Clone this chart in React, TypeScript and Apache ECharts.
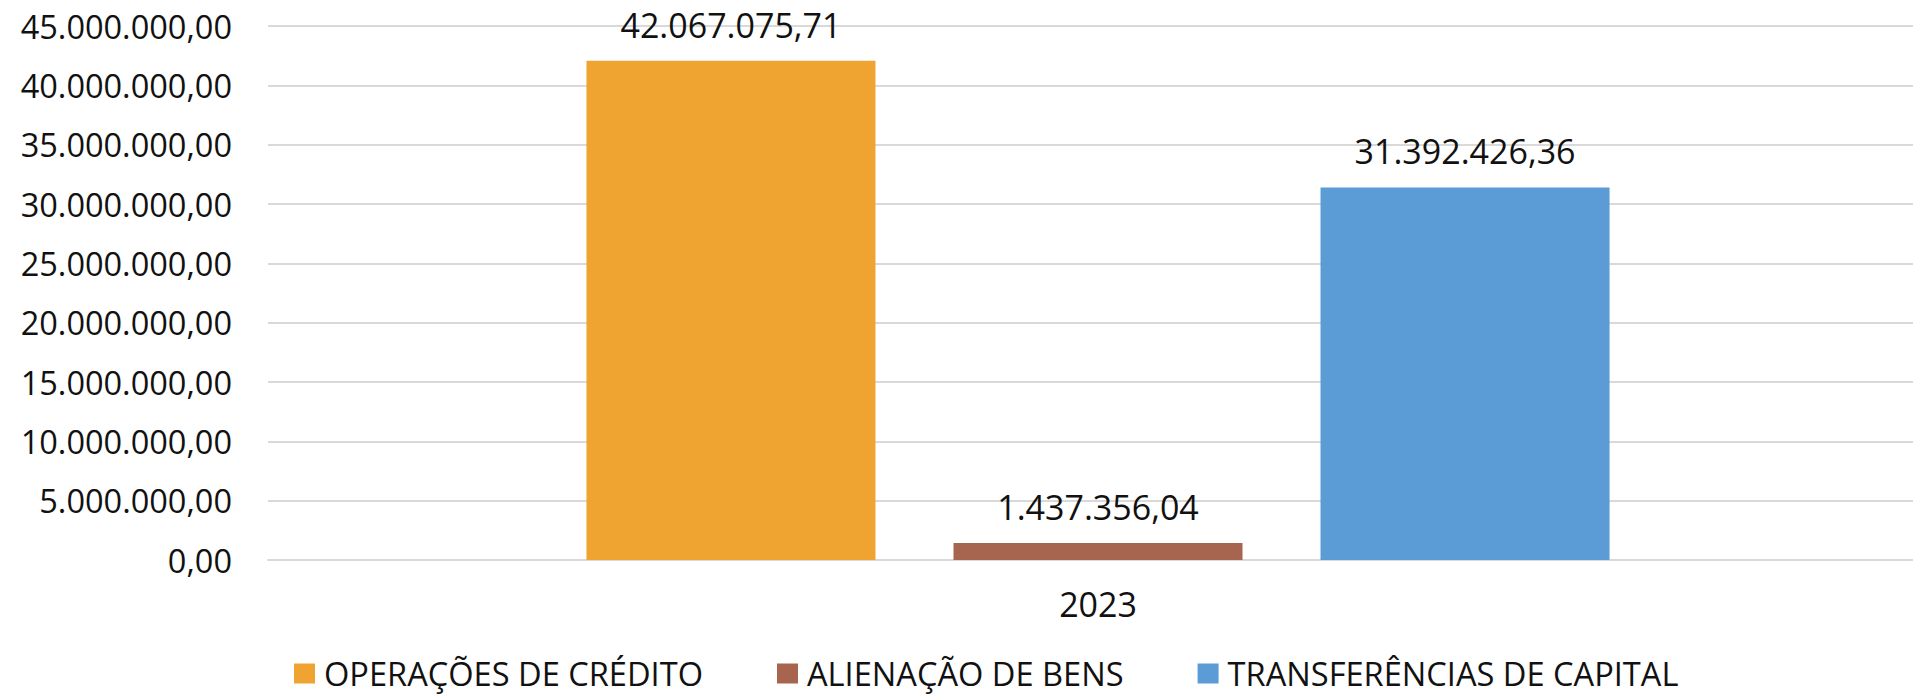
import React, { useEffect, useRef } from "react";
import * as echarts from "echarts";

const categories = ["2023"];
const seriesNames = ["OPERAÇÕES DE CRÉDITO", "ALIENAÇÃO DE BENS", "TRANSFERÊNCIAS DE CAPITAL"];
const seriesValues = [[42067075.71], [1437356.04], [31392426.36]];
const seriesColors = ["#EFA330", "#A7654F", "#5B9BD6"];
const yMin = 0;
const yMax = 45000000;
const yInterval = 5000000;

function fmtBR(v: number): string {
  const fixed = Math.abs(v).toFixed(2);
  const [intPart, dec] = fixed.split(".");
  const withDots = intPart.replace(/\B(?=(\d{3})+(?!\d))/g, ".");
  return (v < 0 ? "-" : "") + withDots + "," + dec;
}

const FONT = "'Open Sans', 'Noto Sans', sans-serif";

export default function App() {
  const ref = useRef<HTMLDivElement>(null);
  useEffect(() => {
    if (!ref.current) return;
    const chart = echarts.init(ref.current, null, { renderer: "svg" });
    chart.setOption({
      animation: false,
      backgroundColor: "#ffffff",
      textStyle: { fontFamily: FONT, color: "#111" },
      grid: {
        left: 268,
        width: 1660,
        top: 26,
        height: 534,
        containLabel: false,
        outerBoundsMode: "none",
      },
      legend: {
        left: 294,
        top: 657,
        padding: 0,
        itemWidth: 21,
        itemHeight: 20,
        itemGap: 74,
        icon: "rect",
        textStyle: { fontFamily: FONT, fontSize: 32.6, lineHeight: 33, color: "#111", padding: [0, 0, 0, 4] },
        data: seriesNames,
      },
      xAxis: {
        type: "category",
        data: categories,
        axisLine: { show: true, lineStyle: { color: "#d9d9d9", width: 2 } },
        axisTick: { show: false },
        axisLabel: { fontFamily: FONT, fontSize: 34, color: "#111", margin: 27 },
      },
      yAxis: {
        type: "value",
        min: yMin,
        max: yMax,
        interval: yInterval,
        axisLine: { show: false },
        axisTick: { show: false },
        splitLine: { lineStyle: { color: "#d9d9d9", width: 2 } },
        axisLabel: {
          fontFamily: FONT,
          fontSize: 32.5,
          color: "#111",
          margin: 36,
          formatter: (v: number) => fmtBR(v),
        },
      },
      series: seriesNames.map((name, i) => ({
        name,
        type: "bar",
        data: seriesValues[i],
        barWidth: 289,
        barGap: "27%",
        itemStyle: { color: seriesColors[i] },
        label: {
          show: true,
          position: "top",
          distance: 19,
          fontFamily: FONT,
          fontSize: 34,
          color: "#111",
          formatter: (p: any) => fmtBR(p.value),
        },
      })),
    });
    return () => chart.dispose();
  }, []);
  return (
    <div
      ref={ref}
      style={{ position: "fixed", left: 0, top: 0, width: 1913, height: 695, background: "#fff", overflow: "hidden" }}
    />
  );
}
